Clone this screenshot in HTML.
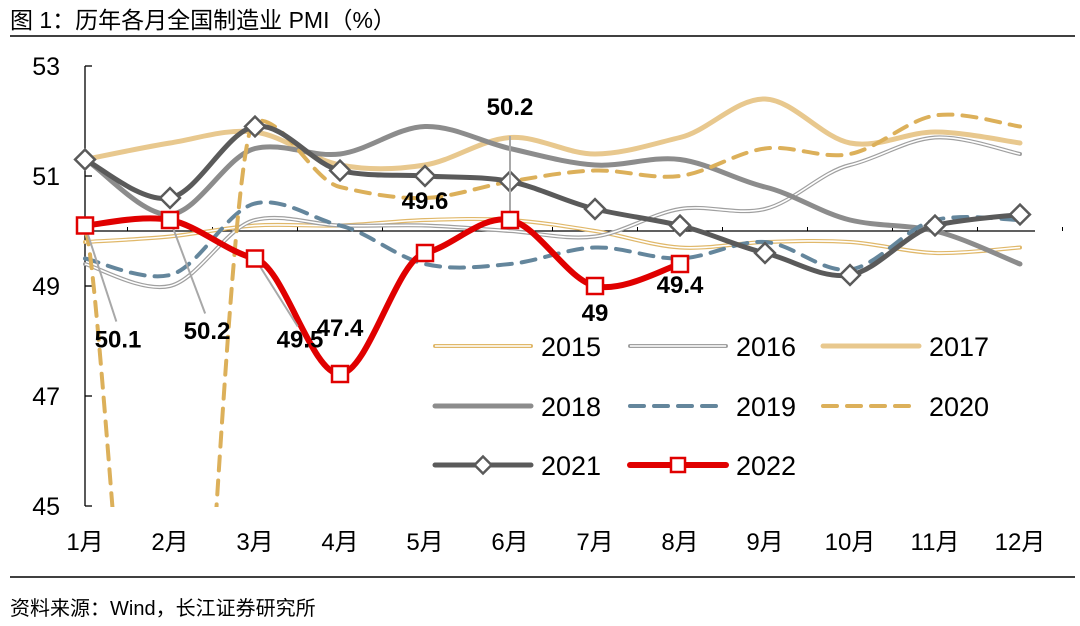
<!DOCTYPE html>
<html><head><meta charset="utf-8"><style>
html,body{margin:0;background:#fff;overflow:hidden;width:1080px;height:626px;}
svg{display:block;font-family:"Liberation Sans","Noto Sans CJK SC",sans-serif;}
</style></head><body>
<svg id="c" width="1080" height="626" xmlns="http://www.w3.org/2000/svg">
<text x="10" y="28" font-size="23" fill="#000">图 1：历年各月全国制造业 PMI（%）</text>
<line x1="10" y1="36" x2="1075" y2="36" stroke="#000" stroke-width="1.5"/>
<line x1="10" y1="577" x2="1075" y2="577" stroke="#000" stroke-width="1.5"/>
<text x="10" y="615" font-size="20" fill="#000">资料来源：Wind，长江证券研究所</text>
<defs><clipPath id="pc"><rect x="80" y="60" width="980" height="447"/></clipPath></defs>
<g id="axes"></g>
<g id="series" clip-path="url(#pc)"></g>
<g id="marks"></g>
<g id="legend"></g>
</svg>
<script>
const months=["1月","2月","3月","4月","5月","6月","7月","8月","9月","10月","11月","12月"];
const yTicks=[45,47,49,51,53];
const s2015=[49.8,49.9,50.1,50.1,50.2,50.2,50.0,49.7,49.8,49.8,49.6,49.7];
const s2016=[49.4,49.0,50.2,50.1,50.1,50.0,49.9,50.4,50.4,51.2,51.7,51.4];
const s2017=[51.3,51.6,51.8,51.2,51.2,51.7,51.4,51.7,52.4,51.6,51.8,51.6];
const s2018=[51.3,50.3,51.5,51.4,51.9,51.5,51.2,51.3,50.8,50.2,50.0,49.4];
const s2019=[49.5,49.2,50.5,50.1,49.4,49.4,49.7,49.5,49.8,49.3,50.2,50.2];
const s2020=[50.0,35.7,52.0,50.8,50.6,50.9,51.1,51.0,51.5,51.4,52.1,51.9];
const s2021=[51.3,50.6,51.9,51.1,51.0,50.9,50.4,50.1,49.6,49.2,50.1,50.3];
const s2022=[50.1,50.2,49.5,47.4,49.6,50.2,49.0,49.4];
const NS="http://www.w3.org/2000/svg";
const X=i=>85+i*85, Y=v=>231-(v-50)*55;
function mk(tag,attrs,parent){const e=document.createElementNS(NS,tag);for(const k in attrs)e.setAttribute(k,attrs[k]);parent.appendChild(e);return e;}
function smooth(vals){const p=vals.map((v,i)=>[X(i),Y(v)]);let d=`M${p[0][0]},${p[0][1]}`;
 const lim=(a,b)=>Math.max(-40,Math.min(40,a-b));
 for(let i=0;i<p.length-1;i++){const p0=p[i-1]||p[i],p1=p[i],p2=p[i+1],p3=p[i+2]||p2;const t=1/6;
 d+=` C${p1[0]+(p2[0]-p0[0])*t},${p1[1]+lim(p2[1],p0[1])*t} ${p2[0]-(p3[0]-p1[0])*t},${p2[1]-lim(p3[1],p1[1])*t} ${p2[0]},${p2[1]}`;}return d;}
const ax=document.getElementById('axes'),sg=document.getElementById('series'),mg=document.getElementById('marks'),lg=document.getElementById('legend');
let e=mk('line',{x1:85,y1:Y(53),x2:85,y2:Y(45),stroke:'#000','stroke-width':1.3},ax);

e=mk('line',{x1:85,y1:Y(50),x2:1035,y2:Y(50),stroke:'#000','stroke-width':1.3},ax);

yTicks.forEach(t=>{mk('line',{x1:85,y1:Y(t),x2:92,y2:Y(t),stroke:'#000','stroke-width':1.3},ax);
 const tx=mk('text',{x:60,y:Y(t)+9,'font-size':25,'text-anchor':'end'},ax);tx.textContent=t;
 });
months.forEach((m,i)=>{mk('line',{x1:X(i)+42.5,y1:Y(50),x2:X(i)+42.5,y2:Y(50)-4,stroke:'#000'},ax);
 const tx=mk('text',{x:X(i),y:550,'font-size':24,'text-anchor':'middle'},ax);tx.textContent=m;
 });
const styles=[
 ["2015",s2015,'#e0b86a',4,'',true],["2016",s2016,'#a0a0a0',4,'',true],["2017",s2017,'#e8c88e',5,'',false],
 ["2018",s2018,'#8c8c8c',5,'',false],["2019",s2019,'#64869c',4,'14 10',false],["2020",s2020,'#dcb05a',4,'14 10',false],
 ["2021",s2021,'#5a5a5a',5,'',false],["2022",s2022,'#e00000',6,'',false]];
styles.forEach(([n,vals,c,w,da,dbl],k)=>{
 const d=smooth(vals);
 const p=mk('path',{d,fill:'none',stroke:c,'stroke-width':w,'stroke-dasharray':da,'stroke-linecap':'round'},sg);
 
 if(dbl)mk('path',{d,fill:'none',stroke:'#fff','stroke-width':1.6},sg);
 const col=k%3,row=Math.floor(k/3),lx=[435,630,823][col],ly=[346,406,465][row];
 const g=mk('g',{},lg);
 mk('line',{x1:lx,y1:ly,x2:lx+96,y2:ly,stroke:c,'stroke-width':w,'stroke-dasharray':da,'stroke-linecap':'round'},g);
 if(dbl)mk('line',{x1:lx,y1:ly,x2:lx+96,y2:ly,stroke:'#fff','stroke-width':1.6},g);
 if(n==="2021")mk('rect',{x:lx+48-6,y:ly-6,width:12,height:12,fill:'#fff',stroke:c,'stroke-width':2.5,transform:`rotate(45 ${lx+48} ${ly})`},g);
 if(n==="2022")mk('rect',{x:lx+48-7,y:ly-7,width:14,height:14,fill:'#fff',stroke:c,'stroke-width':2.5},g);
 const t=mk('text',{x:lx+106,y:ly+10,'font-size':27},g);t.textContent=n;
});
s2021.forEach((v,i)=>{const r=mk('rect',{x:X(i)-7,y:Y(v)-7,width:14,height:14,fill:'#fff',stroke:'#5a5a5a','stroke-width':2.5,transform:`rotate(45 ${X(i)} ${Y(v)})`},mg);
 });
const lblOff=[[33,113,1],[37,110,1],[45,80,1],[0,-38,0],[0,-44,0],[0,-105,1],[0,26,0],[0,20,0]];
s2022.forEach((v,i)=>{const x=X(i),y=Y(v),[dx,dy,ld]=lblOff[i];
 if(ld)mk('line',{x1:x,y1:y,x2:x+dx*0.95,y2:y+dy*(dy>0?0.85:0.8),stroke:'#a8a8a8','stroke-width':2},mg);
 const r=mk('rect',{x:x-8,y:y-8,width:16,height:16,fill:'#fff',stroke:'#e00000','stroke-width':2.5},mg);
 
 const t=mk('text',{x:x+dx,y:y+dy+(dy>0?9:0),'font-size':24,'font-weight':'bold','text-anchor':'middle'},mg);t.textContent=v;
 });
</script>
</body></html>
